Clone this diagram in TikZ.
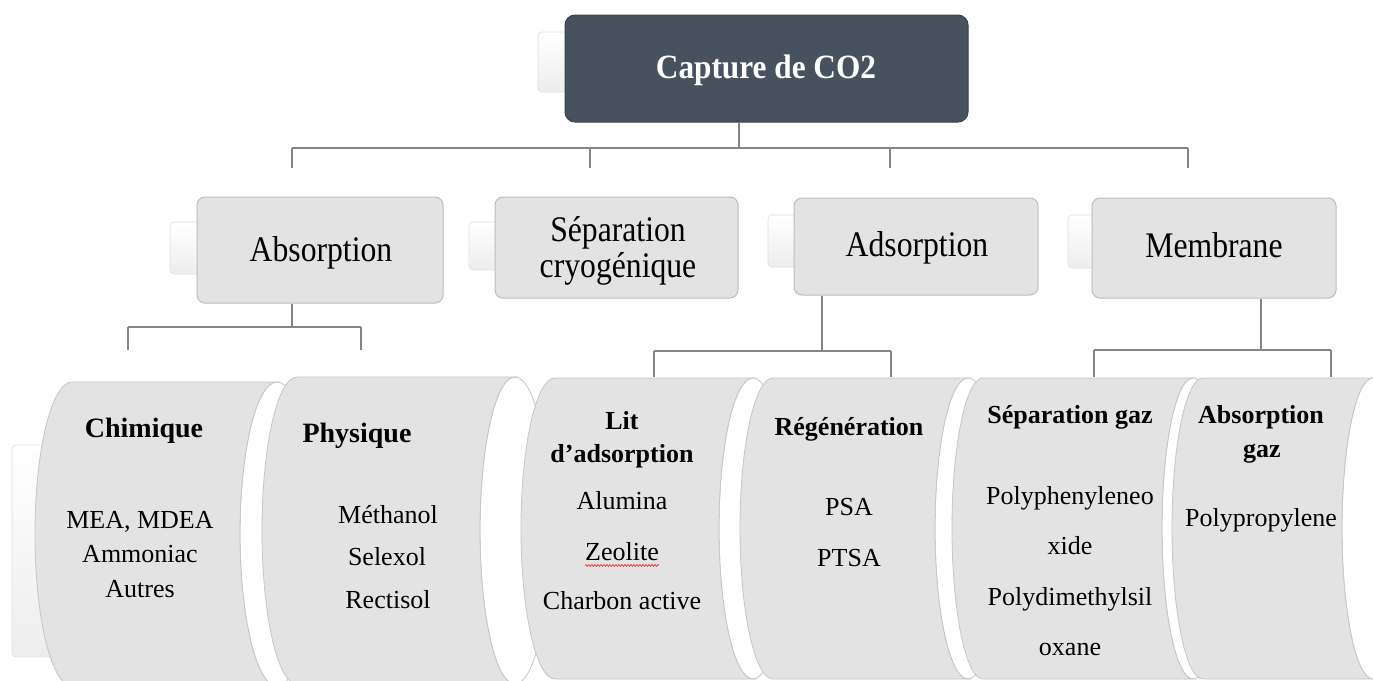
\documentclass[tikz,border=0pt]{standalone}
\usepackage{fontspec}
\setmainfont{Liberation Serif}
\newfontfamily\condfont{Liberation Serif}[FakeStretch=0.88]
\newfontfamily\topfont{Liberation Serif}[FakeStretch=0.92]
\usetikzlibrary{decorations.pathmorphing}
\definecolor{topfill}{HTML}{48525F}
\definecolor{boxfill}{HTML}{E3E3E3}
\definecolor{boxline}{HTML}{BDBDBD}
\definecolor{connclr}{HTML}{858585}
\newcommand{\lvthree}{\fontsize{26}{30}\selectfont}
\newcommand{\lvthreeb}{\fontsize{26}{30}\selectfont\bfseries}
\newcommand{\lvthreebb}{\fontsize{28}{32}\selectfont\bfseries}
\newcommand{\lvtwo}{\condfont\fontsize{36}{40}\selectfont}
\newcommand{\lvone}{\topfont\bfseries\fontsize{34}{40}\selectfont}
\newcommand{\cylshape}[5]{%
  \pgfmathsetmacro\cmid{(#3+#4)/2}%
  \pgfmathsetmacro\cry{(#4-#3)/2}%
  \draw[cylline, fill=white] (#2,\cmid) ellipse [x radius=#5, y radius=\cry];
  \draw[cylline, fill=boxfill] (#1,#3) -- (#2,#3)
     arc[start angle=270, end angle=90, x radius=#5, y radius=\cry]
     -- (#1,#4)
     arc[start angle=90, end angle=270, x radius=#5, y radius=\cry] -- cycle;
}
\tikzset{
  lvlbox/.style={draw=boxline, fill=boxfill, rounded corners=8pt, line width=1pt, inner sep=0pt},
  topbox/.style={draw=topfill!80!black, fill=topfill, rounded corners=10pt, line width=1pt, inner sep=0pt},
  ghost/.style={draw=gray!25, top color=white, bottom color=gray!14, rounded corners=4pt, line width=0.6pt},
  cylline/.style={draw=gray!45, line width=0.8pt},
  connector/.style={draw=connclr, line width=1.2pt},
  txt/.style={anchor=base, inner sep=0pt, text=black},
}
\begin{document}
\begin{tikzpicture}[x=1pt, y=-1pt]
\useasboundingbox (0,0) rectangle (1373,680);
\fill[white] (0,0) rectangle (1373,680);

% ghost tabs
\draw[ghost] (538,32) rectangle (580,92);
\draw[ghost] (170,222) rectangle (210,274);
\draw[ghost] (469,222) rectangle (510,270);
\draw[ghost] (768,215) rectangle (810,267);
\draw[ghost] (1068,215) rectangle (1110,268);

% top box
\node[topbox, minimum width=403pt, minimum height=107pt] (top) at (766.5,68.5) {};
\node[txt, text=white] (toptxt) at (766,78) {\lvone Capture de CO2};

% level 2 boxes
\node[lvlbox, minimum width=246pt, minimum height=106pt] (abs) at (320,250) {};
\node[lvlbox, minimum width=243pt, minimum height=101pt] (sep) at (616.5,247.5) {};
\node[lvlbox, minimum width=244pt, minimum height=97pt] (ads) at (916,246.5) {};
\node[lvlbox, minimum width=244pt, minimum height=100pt] (mem) at (1214,248) {};

\node[txt] (abstxt) at (321,261) {\lvtwo Absorption};
\node[txt] (septxta) at (618,241) {\lvtwo Séparation};
\node[txt] (septxtb) at (618,277) {\lvtwo cryogénique};
\node[txt] (adstxt) at (917,256) {\lvtwo Adsorption};
\node[txt] (memtxt) at (1214,257) {\lvtwo Membrane};

% connectors level 1 -> 2
\coordinate (b0) at (739,148);
\coordinate (b1) at (292,148);
\coordinate (b2) at (590,148);
\coordinate (b3) at (890,148);
\coordinate (b4) at (1188,148);
\coordinate (d1) at (292,168);
\coordinate (d2) at (590,168);
\coordinate (d3) at (890,168);
\coordinate (d4) at (1188,168);
\draw[connector] (top.south -| b0) -- (b0);
\draw[connector] (b1) -- (b4);
\draw[connector] (b1) -- (d1);
\draw[connector] (b2) -- (d2);
\draw[connector] (b3) -- (d3);
\draw[connector] (b4) -- (d4);

% connectors level 2 -> 3
\coordinate (a0) at (292,327);
\coordinate (a1) at (128,327);
\coordinate (a2) at (361,327);
\coordinate (a1d) at (128,350);
\coordinate (a2d) at (361,350);
\draw[connector] (abs.south -| a0) -- (a0);
\draw[connector] (a1) -- (a2);
\draw[connector] (a1) -- (a1d);
\draw[connector] (a2) -- (a2d);

\coordinate (c0) at (822,351);
\coordinate (c1) at (654,351);
\coordinate (c2) at (891,351);
\coordinate (c1d) at (654,377);
\coordinate (c2d) at (891,377);
\draw[connector] (ads.south -| c0) -- (c0);
\draw[connector] (c1) -- (c2);
\draw[connector] (c1) -- (c1d);
\draw[connector] (c2) -- (c2d);

\coordinate (m0) at (1261,350);
\coordinate (m1) at (1094,350);
\coordinate (m2) at (1331,350);
\coordinate (m1d) at (1094,377);
\coordinate (m2d) at (1331,377);
\draw[connector] (mem.south -| m0) -- (m0);
\draw[connector] (m1) -- (m2);
\draw[connector] (m1) -- (m1d);
\draw[connector] (m2) -- (m2d);

% level 3 cylinders
\begin{scope}
\clip (0,0) rectangle (1373,680);
\draw[ghost] (12,445) rectangle (60,657);
\cylshape{72}{277}{382}{686}{37}
\cylshape{297}{515}{377}{684}{35}
\cylshape{555}{753}{378}{679}{34}
\cylshape{773}{968}{378}{679}{33}
\cylshape{983}{1193}{378}{679}{31}
\cylshape{1203}{1373}{378}{679}{31}
\end{scope}

% level 3 texts
\node[txt] (chi) at (144,437) {\lvthreebb Chimique};
\node[txt] (chia) at (140,528) {\lvthree MEA, MDEA};
\node[txt] (chib) at (140,562) {\lvthree Ammoniac};
\node[txt] (chic) at (140,597) {\lvthree Autres};

\node[txt] (phy) at (357,442) {\lvthreebb Physique};
\node[txt] (phya) at (388,523) {\lvthree Méthanol};
\node[txt] (phyb) at (387,565) {\lvthree Selexol};
\node[txt] (phyc) at (388,608) {\lvthree Rectisol};

\node[txt] (lita) at (622,429) {\lvthreeb Lit};
\node[txt] (litb) at (622,462) {\lvthreeb d’adsorption};
\node[txt] (litc) at (622,509) {\lvthree Alumina};
\node[txt] (zeo) at (622,560) {\lvthree Zeolite};
\node[txt] (lite) at (622,609) {\lvthree Charbon active};
\draw[red, line width=0.5pt, decorate, decoration={snake, amplitude=1pt, segment length=3pt}]
  ([yshift=-5pt]zeo.south west) -- ([yshift=-5pt]zeo.south east);

\node[txt] (reg) at (849,435) {\lvthreeb Régénération};
\node[txt] (rega) at (849,515) {\lvthree PSA};
\node[txt] (regb) at (849,566) {\lvthree PTSA};

\node[txt] (sga) at (1070,423) {\lvthreeb Séparation gaz};
\node[txt] (sgb) at (1070,504) {\lvthree Polyphenyleneo};
\node[txt] (sgc) at (1070,554) {\lvthree xide};
\node[txt] (sgd) at (1070,605) {\lvthree Polydimethylsil};
\node[txt] (sge) at (1070,655) {\lvthree oxane};

\node[txt] (aga) at (1261,423) {\lvthreeb Absorption};
\node[txt] (agb) at (1262,457) {\lvthreeb gaz};
\node[txt] (agc) at (1261,526) {\lvthree Polypropylene};
\end{tikzpicture}
\end{document}
